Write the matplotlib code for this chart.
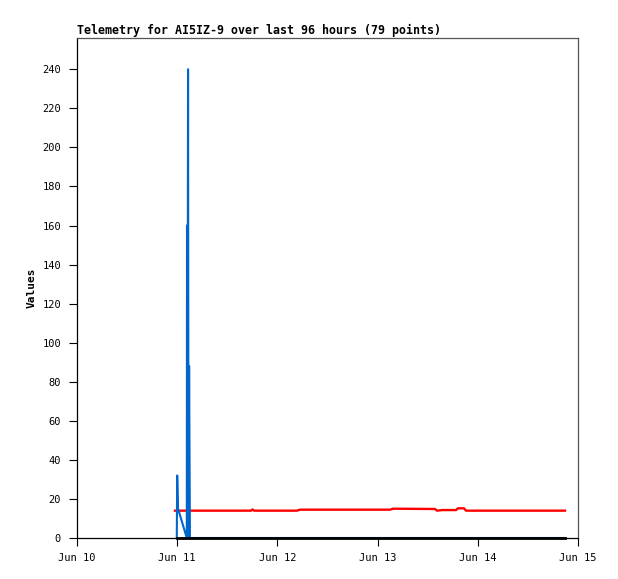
import pandas as pd
import matplotlib
matplotlib.use("Agg")
import matplotlib.pyplot as plt
import matplotlib.dates as mdates

# hours after Jun 10 00:00
start = pd.Timestamp("2024-06-10")

red_hours = [23.47, 41.68, 42.04, 42.40, 52.69, 53.41, 74.97, 75.69,
             85.75, 86.23, 87.43, 90.78, 91.26, 92.69, 93.17, 116.89]
red_vals = [14.0, 14.0, 14.6, 14.0, 14.0, 14.5, 14.5, 15.0,
            14.85, 14.0, 14.3, 14.3, 15.2, 15.2, 14.0, 14.0]

blue_hours = [23.9, 24.0, 24.2, 26.3, 26.35, 26.45, 26.6, 26.7, 26.85, 27.05, 116.89]
blue_vals = [0, 32, 15, 0, 160, 0, 240, 0, 88, 0, 0]

black_hours = [23.9, 116.89]
black_vals = [0, 0]

title = "Telemetry for AI5IZ-9 over last 96 hours (79 points)"
y_ticks = list(range(0, 241, 20))


def to_time(hours):
    return [start + pd.Timedelta(hours=h) for h in hours]


plt.rcParams['font.family'] = ['DejaVu Sans Mono']

fig = plt.figure(figsize=(6.18, 5.79), dpi=100)
ax = fig.add_axes([77 / 618, 41 / 579, 501 / 618, 500 / 579])

ax.plot(to_time(red_hours), red_vals, color='#ff0000', lw=1.7)
ax.plot(to_time(blue_hours), blue_vals, color='#0066cc', lw=1.5)
ax.plot(to_time(black_hours), black_vals, color='black', lw=2.0, clip_on=False)

ax.set_xlim(start, start + pd.Timedelta(days=5))
ax.set_ylim(0, 256)
ax.set_yticks(y_ticks)
ax.xaxis.set_major_locator(mdates.DayLocator())
ax.xaxis.set_major_formatter(mdates.DateFormatter('%b %d'))

ax.tick_params(axis='both', labelsize=7.5, length=5.5, width=0.8, color='black')
ax.tick_params(axis='y', pad=6)
ax.tick_params(axis='x', pad=5)

for side in ('left', 'bottom'):
    ax.spines[side].set_color('black')
    ax.spines[side].set_linewidth(0.9)
for side in ('top', 'right'):
    ax.spines[side].set_color('#555555')
    ax.spines[side].set_linewidth(0.9)

ax.set_ylabel("Values", fontsize=8, fontweight='bold')
ax.yaxis.set_label_coords(-0.08, 0.5)
ax.set_title(title, loc='left', fontsize=8.4, fontweight='bold', pad=3)

fig.savefig("out.png", dpi=100)
